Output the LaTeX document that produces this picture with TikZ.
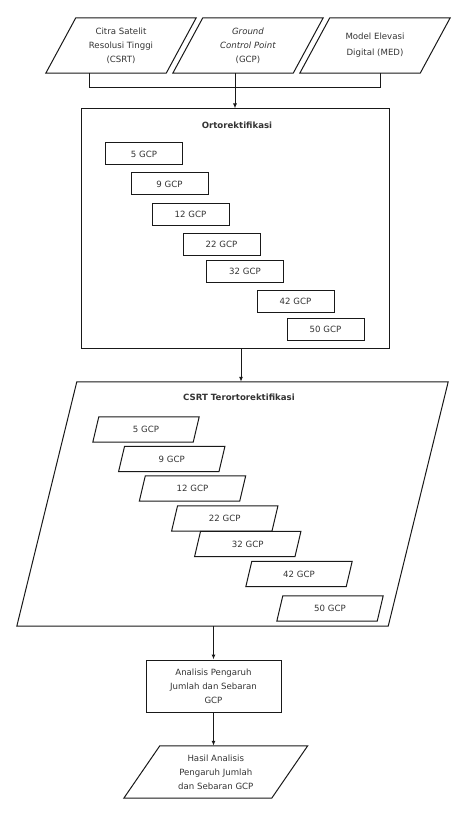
\documentclass[tikz,border=0pt]{standalone}
\usepackage{fontspec}
\setmainfont{DejaVu Sans}
\usetikzlibrary{calc,arrows.meta}
\newcommand\drawpar[2]{\draw[outl] ($(#1.north west)+(#2,0)$) -- ($(#1.north east)+(#2,0)$) -- ($(#1.south east)-(#2,0)$) -- ($(#1.south west)-(#2,0)$) -- cycle;}
\begin{document}
\begin{tikzpicture}[x=1pt,y=-1pt,
  outl/.style={line width=1pt,draw=black!90},
  txt/.style={font=\fontsize{8.6}{14}\selectfont,text=black!80,align=center,inner sep=0pt},
  pbox/.style={txt,minimum width=120,minimum height=55},
  gbox/.style={txt,draw=black!90,line width=1pt,minimum width=77,minimum height=22},
  gpar/.style={txt,minimum width=100,minimum height=25},
  ttl/.style={txt,font=\fontsize{8.6}{14}\selectfont\bfseries},
  arr/.style={line width=1pt,draw=black!90,-{Latex[length=5pt,width=4pt]}},
  con/.style={line width=1pt,draw=black!90}]
\useasboundingbox (0,0) rectangle (461,818);
% top inputs
\node[pbox] (p1) at (121,45.5) {Citra Satelit\\Resolusi Tinggi\\(CSRT)};
\node[pbox] (p2) at (248,45.5) {\textit{Ground}\\\textit{Control Point}\\(GCP)};
\node[pbox,font=\fontsize{8.6}{16}\selectfont] (p3) at (375,45.5) {Model Elevasi\\Digital (MED)};
\drawpar{p1}{15}
\drawpar{p2}{15}
\drawpar{p3}{15}
% ortorektifikasi box
\node[draw=black!90,line width=1pt,minimum width=308,minimum height=239,inner sep=0pt] (orto) at (235,228.5) {};
\node[ttl] (ortot) at (237,125) {Ortorektifikasi};
\node[gbox] (o5) at (144,154) {5 GCP};
\node[gbox] (o9) at (169.5,184) {9 GCP};
\node[gbox] (o12) at (190.5,214.5) {12 GCP};
\node[gbox] (o22) at (221.5,244.5) {22 GCP};
\node[gbox] (o32) at (245,271.5) {32 GCP};
\node[gbox] (o42) at (295.5,301.5) {42 GCP};
\node[gbox] (o50) at (325.5,329.5) {50 GCP};
% bracket and arrow
\coordinate (bl) at (89,88);
\coordinate (br) at (380,88);
\draw[con] (p1.south -| bl) -- (bl) -- (br) -- (p3.south -| br);
\draw[arr] (p2.south -| orto.north) -- (orto.north);
% CSRT terortorektifikasi
\node[inner sep=0pt,minimum width=371,minimum height=244] (big) at (232.5,504) {};
\drawpar{big}{30}
\node[ttl] (bigt) at (239,397) {CSRT Terortorektifikasi};
\node[gpar] (c5) at (146,429.5) {5 GCP};
\node[gpar] (c9) at (171.75,459) {9 GCP};
\node[gpar] (c12) at (192.5,488.5) {12 GCP};
\node[gpar] (c22) at (224.75,518.5) {22 GCP};
\node[gpar] (c32) at (247.75,544) {32 GCP};
\node[gpar] (c42) at (299,574) {42 GCP};
\node[gpar] (c50) at (330,608.5) {50 GCP};
\drawpar{c5}{3}
\drawpar{c9}{3}
\drawpar{c12}{3}
\drawpar{c22}{3}
\drawpar{c32}{3}
\drawpar{c42}{3}
\drawpar{c50}{3}
\coordinate (a2) at ($(orto.south)+(6,0)$);
\draw[arr] (a2) -- (a2 |- big.north);
% analysis
\node[txt,draw=black!90,line width=1pt,minimum width=135,minimum height=52] (anal) at (213.5,686) {Analisis Pengaruh\\Jumlah dan Sebaran\\GCP};
\draw[arr] (big.south -| anal.north) -- (anal.north);
% final
\node[txt,minimum width=147.5,minimum height=52] (fin) at (215.75,772) {Hasil Analisis\\Pengaruh Jumlah\\dan Sebaran GCP};
\drawpar{fin}{18}
\draw[arr] (anal.south) -- (anal.south |- fin.north);
\end{tikzpicture}
\end{document}
